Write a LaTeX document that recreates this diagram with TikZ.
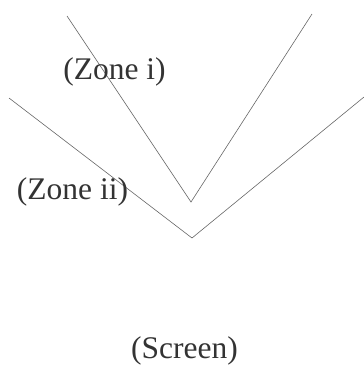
\documentclass[tikz,border=0pt]{standalone}
\usepackage{fontspec}
\setmainfont{Liberation Serif}
\begin{document}
\begin{tikzpicture}[x=1bp,y=-1bp,
  zone/.style={draw=black!60,line width=0.6pt},
  lbl/.style={inner sep=0pt,text=black!80,font=\fontsize{31.5bp}{38bp}\selectfont}]
  \useasboundingbox (0,0) rectangle (364,375);
  % inner wedge
  \coordinate (a1) at (67,16);
  \coordinate (av) at (191,202);
  \coordinate (a2) at (312,14);
  % outer wedge
  \coordinate (b1) at (9,98);
  \coordinate (bv) at (192,238);
  \coordinate (b2) at (364,97);
  \draw[zone] (a1) -- (av) -- (a2);
  \draw[zone] (b1) -- (bv) -- (b2);
  \node[lbl] (z1) at (114.5,72) {(Zone i)};
  \node[lbl] (z2) at (72.5,192) {(Zone ii)};
  \node[lbl] (sc) at (184.5,351) {(Screen)};
\end{tikzpicture}
\end{document}
